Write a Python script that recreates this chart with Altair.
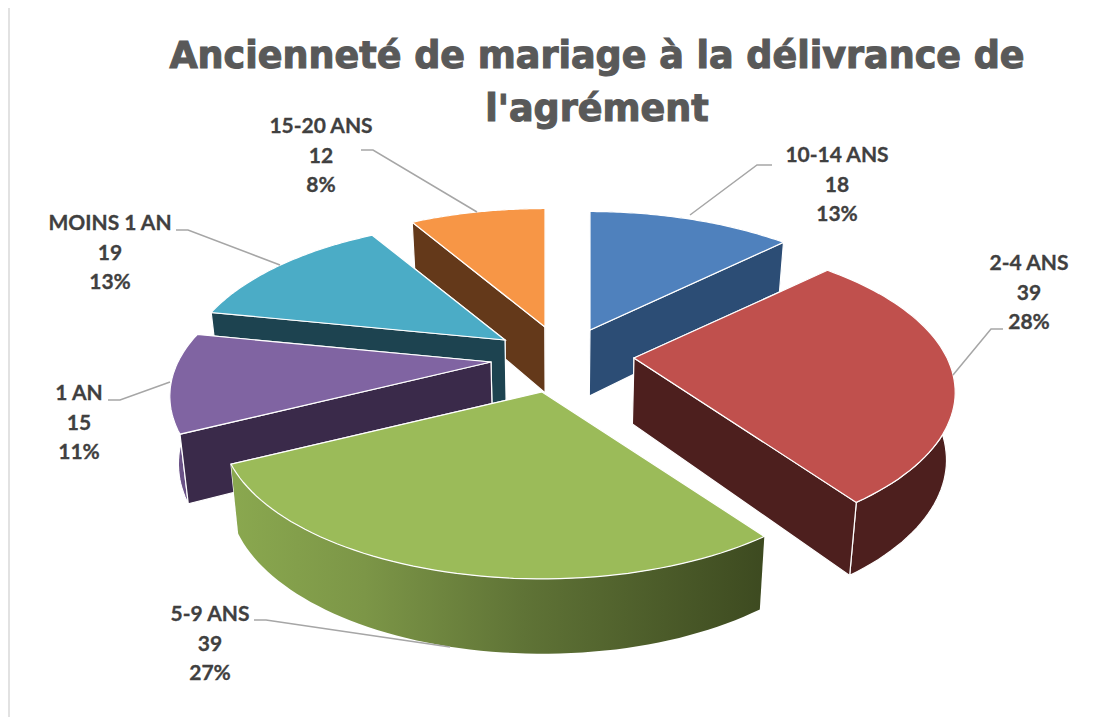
import math
import altair as alt

# ---- chart values
categories = ["10-14 ANS", "2-4 ANS", "5-9 ANS", "1 AN", "MOINS 1 AN", "15-20 ANS"]
values = [18, 39, 39, 15, 19, 12]
percents = ["13%", "28%", "27%", "11%", "13%", "8%"]
top_colors = ["#4f81bd", "#c0504d", "#9bbb59", "#8064a2", "#4bacc6", "#f79646"]
wall_colors = ["#2c4d75", "#4d1f1e", "#3d4a20", "#3a2a4a", "#1d4350", "#64391a"]
rim_colors = ["#2c4d75", "#4d1f1e", "#7d9a48", "#6a5287", "#1d4350", "#64391a"]
paint_order = [5, 0, 4, 3, 1, 2]
title_lines = ["Ancienneté de mariage à la délivrance de", "l'agrément"]

# ---- layout of the 3D view and annotations
CX, RX, RY, PERSP, DEPTH, SHRINK = 560, 313, 145, 0.224, 66, 0.978
apexes = [(590, 330), (634, 358), (542, 392), (491, 362), (505, 340), (545, 327)]  # exploded slice tips
label_pos = {0: (837, 156), 1: (1029, 264), 2: (210, 615), 3: (79, 394), 4: (110, 224), 5: (321, 127)}
leaders = {
    0: [(772, 165), (757, 165), (690, 215)],
    1: [(1003, 329), (991, 329), (953, 375)],
    2: [(254, 620), (266, 620), (450, 647)],
    3: [(108, 400), (120, 400), (170, 382)],
    4: [(176, 230), (188, 230), (280, 265)],
    5: [(361, 150), (373, 150), (477, 212)],
}
LINE_H = 29.5


def point(apex, X, Y, z):
    """A point of a slice: apex on screen, (X, Y) in the unit disc, z=1 on the underside."""
    w = 1 + PERSP * Y
    sx = apex[0] + RX * X / w
    sy = apex[1] - RY * Y / w
    if z:
        sx = CX + (sx - CX) * SHRINK
        sy += DEPTH / math.sqrt(w)
    return [round(sx, 1), round(sy, 1)]


def poly(coords, fill):
    return {
        "type": "Feature",
        "properties": {"fill": fill},
        "geometry": {"type": "Polygon", "coordinates": [coords + [coords[0]]]},
    }


total = sum(values)
starts, acc = [], 0.0
for v in values:
    starts.append(acc)
    acc += v / total * 2 * math.pi


def faces(i):
    a0 = starts[i]
    a1 = a0 + values[i] / total * 2 * math.pi
    apex = apexes[i]
    n = 60
    pts = [(math.sin(a0 + (a1 - a0) * k / n), math.cos(a0 + (a1 - a0) * k / n)) for k in range(n + 1)]
    A0, A1 = point(apex, 0, 0, 0), point(apex, 0, 0, 1)
    top = [A0] + [point(apex, x, y, 0) for x, y in pts]
    rim = [point(apex, x, y, 0) for x, y in pts] + [point(apex, x, y, 1) for x, y in reversed(pts)]
    w0 = [A0, point(apex, *pts[0], 0), point(apex, *pts[0], 1), A1]
    w1 = [A0, point(apex, *pts[-1], 0), point(apex, *pts[-1], 1), A1]
    hidden, shown = [], []
    (shown if math.sin(a0) < 0.001 else hidden).append(poly(w0, wall_colors[i]))
    (shown if -math.sin(a1) < 0.001 else hidden).append(poly(w1, wall_colors[i]))
    return hidden, poly(rim, rim_colors[i]), shown, poly(top, top_colors[i])


back, green_rim, front = [], None, []
for i in paint_order:
    h, r, s, t = faces(i)
    if i == 2:
        back += h
        green_rim = r
        front = s + [t]
    else:
        back += h + [r] + s + [t]

proj = dict(type="identity", scale=1, translate=[-8, -8])

base = alt.Chart(alt.Data(values=back)).mark_geoshape(
    stroke="#ffffff", strokeWidth=1.2, filled=True
).encode(color=alt.Color("properties.fill:N", scale=None)).project(**proj)

rim_layer = alt.Chart(alt.Data(values=[green_rim])).mark_geoshape(
    strokeWidth=0,
    filled=True,
    fill=alt.Gradient(
        gradient="linear", x1=0, x2=1, y1=0, y2=0,
        stops=[
            alt.GradientStop(offset=0, color="#8aa84f"),
            alt.GradientStop(offset=0.25, color="#7c9647"),
            alt.GradientStop(offset=0.55, color="#5f7336"),
            alt.GradientStop(offset=1, color="#3d4a20"),
        ],
    ),
).project(**proj)

front_layer = alt.Chart(alt.Data(values=front)).mark_geoshape(
    stroke="#ffffff", strokeWidth=1.2, filled=True
).encode(color=alt.Color("properties.fill:N", scale=None)).project(**proj)

leader_feats = [
    {"type": "Feature", "properties": {"cat": categories[i]},
     "geometry": {"type": "LineString", "coordinates": [list(p) for p in pts]}}
    for i, pts in leaders.items()
]
leader_layer = alt.Chart(alt.Data(values=leader_feats)).mark_geoshape(
    filled=False, stroke="#a6a6a6", strokeWidth=1.5
).project(**proj)

label_rows = []
for i, (lx, ly) in label_pos.items():
    for j, txt in enumerate([categories[i], str(values[i]), percents[i]]):
        label_rows.append({"t": txt, "lon": lx, "lat": ly + j * LINE_H})
label_layer = alt.Chart(alt.Data(values=label_rows)).mark_text(
    font="Lato", fontWeight="bold", fontSize=21, color="#404040", stroke="#404040", strokeWidth=0.3,
    align="center", baseline="middle"
).encode(longitude="lon:Q", latitude="lat:Q", text="t:N").project(**proj)

title_rows = [{"t": title_lines[0], "lon": 597, "lat": 57}, {"t": title_lines[1], "lon": 597, "lat": 110}]
title_layer = alt.Chart(alt.Data(values=title_rows)).mark_text(
    font="DejaVu Sans", fontWeight="bold", fontSize=36.5, color="#595959", stroke="#595959",
    strokeWidth=1.1, align="center", baseline="middle"
).encode(longitude="lon:Q", latitude="lat:Q", text="t:N").project(**proj)

border_feat = [{"type": "Feature", "properties": {},
                "geometry": {"type": "LineString", "coordinates": [[9, 8], [9, 725]]}}]
border_layer = alt.Chart(alt.Data(values=border_feat)).mark_geoshape(
    filled=False, stroke="#d9d9d9", strokeWidth=1.5
).project(**proj)

chart = alt.layer(
    border_layer, base, rim_layer, front_layer, leader_layer, label_layer, title_layer
).properties(width=1097, height=709, padding=0, background="#ffffff").configure_view(stroke=None)

chart.save("out.html", embed_options={"renderer": "svg", "actions": False})
